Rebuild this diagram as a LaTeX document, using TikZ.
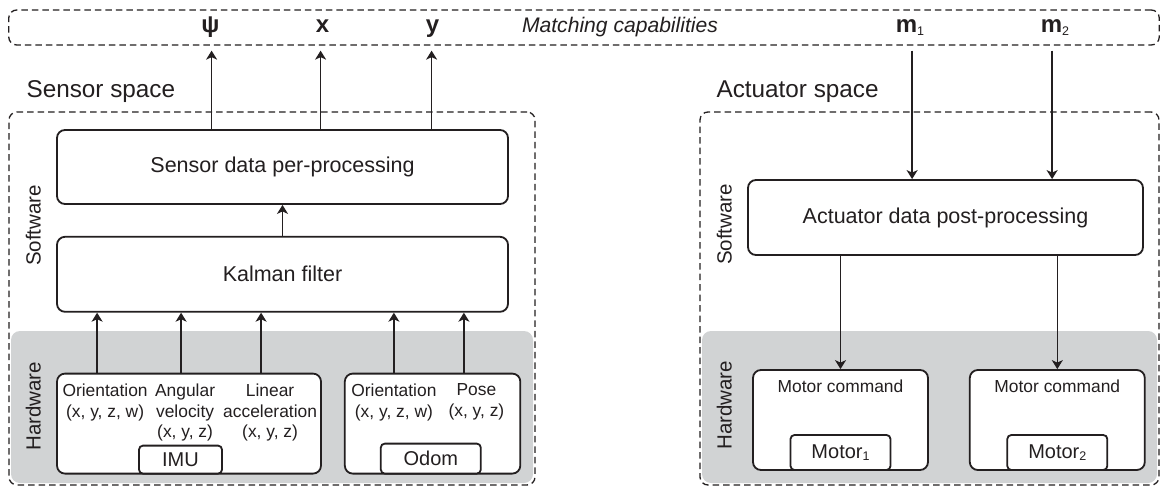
\documentclass[tikz,border=0pt]{standalone}
\usepackage{fontspec}
\setmainfont{Liberation Sans}
\usetikzlibrary{arrows.meta,positioning,calc,backgrounds}
\definecolor{ink}{HTML}{231F20}
\definecolor{hwgray}{HTML}{D1D3D4}
\newcommand{\lowidx}[1]{\raisebox{-2.5pt}{\mdseries\fontsize{12.5}{13}\selectfont #1}}
\tikzset{
  >={Stealth[length=9pt,width=11pt,inset=2.5pt]},
  every node/.style={text=ink},
  box/.style={draw=ink,line width=1.8pt,rounded corners=8pt,fill=white,align=center,inner sep=0pt,font=\fontsize{21.5}{26}\selectfont},
  hwbox/.style={box,minimum height=100pt},
  tag/.style={draw=ink,line width=1.8pt,rounded corners=4pt,fill=white,inner sep=0pt,font=\fontsize{20}{24}\selectfont},
  spec/.style={align=center,inner sep=0pt,font=\fontsize{17.4}{20.5}\selectfont},
  region/.style={draw=ink,line width=1.3pt,dash pattern=on 6.5pt off 4pt,rounded corners=8pt,inner sep=0pt},
  hwzone/.style={fill=hwgray,rounded corners=9pt},
  spacetitle/.style={anchor=base west,inner sep=0pt,font=\fontsize{24.3}{29}\selectfont},
  layer/.style={rotate=90,inner sep=0pt,font=\fontsize{20.5}{24}\selectfont},
  capsym/.style={anchor=base,inner sep=0pt,font=\fontsize{24}{28}\selectfont\bfseries},
  arrow/.style={->,line width=1.4pt,draw=ink},
}

\begin{document}
\begin{tikzpicture}[x=1pt,y=-1pt]
\useasboundingbox (0,0) rectangle (1161,486);

% matching capabilities band
\node[region,minimum width=1150.5pt,minimum height=35pt] (cap) at (584,27.5) {};
\node[capsym] (psi) at (210.5,33) {ψ};
\node[capsym] (capx) at (322.5,33) {x};
\node[capsym] (capy) at (432.5,33) {y};
\node[anchor=base,inner sep=0pt,font=\fontsize{21.1}{25}\selectfont\itshape] (match) at (620,33) {Matching capabilities};
\node[capsym] (m1) at (910,33) {m\lowidx{1}};
\node[capsym] (m2) at (1055,33) {m\lowidx{2}};

% sensor space
\node[region,minimum width=526pt,minimum height=373pt] (sensor) at (272,298.5) {};
\node[spacetitle] (sensortitle) at ([xshift=18pt,yshift=14pt]sensor.north west) {Sensor space};
\node[box,minimum width=451pt,minimum height=74pt] (pre) at (282.5,167) {Sensor data per-processing};
\node[box,minimum width=451pt,minimum height=75pt,below=31pt of pre] (kalman) {Kalman filter};
\node[hwbox,minimum width=264pt,below=60pt of kalman.south west,anchor=north west] (imu) {};
\node[hwbox,minimum width=175.5pt,right=22pt of imu] (odom) {};
\node[tag,minimum width=83pt,minimum height=28pt,anchor=south] (imutag) at ([xshift=-8.5pt]imu.south) {IMU};
\node[tag,minimum width=100pt,minimum height=30pt,anchor=south] (odomtag) at ([xshift=-1.75pt]odom.south) {Odom};
\node[spec,anchor=north] (imuori) at ($(imu.north west)+(49,11)$) {Orientation\\(x, y, z, w)};
\node[spec,anchor=north] (imuang) at ($(imu.north west)+(129,11)$) {Angular\\velocity\\(x, y, z)};
\node[spec,anchor=north] (imulin) at ($(imu.north west)+(214,11)$) {Linear\\acceleration\\(x, y, z)};
\node[spec,anchor=north] (odomori) at ($(odom.north west)+(50,11)$) {Orientation\\(x, y, z, w)};
\node[spec,anchor=north] (odompose) at ($(odom.north west)+(132.5,11)$) {Pose\\(x, y, z)};
\node[layer] (sensorsw) at ($(sensor.north west)+(25,114)$) {Software};
\node[layer] (sensorhw) at ($(sensor.north west)+(25,295)$) {Hardware};

\foreach \dx [count=\i] in {41,125,205}
  \coordinate (imuout\i) at ($(imu.north west)+(\dx,0)$);
\foreach \dx [count=\i] in {50,120}
  \coordinate (odomout\i) at ($(odom.north west)+(\dx,0)$);
\foreach \i in {1,2,3}
  \draw[arrow] (imuout\i) -- (imuout\i |- kalman.south);
\foreach \i in {1,2}
  \draw[arrow] (odomout\i) -- (odomout\i |- kalman.south);
\draw[arrow] (kalman) -- (pre);
\foreach \dx [count=\i] in {155.5,264.5,375.5}
  \coordinate (preout\i) at ($(pre.north west)+(\dx,0)$);
\foreach \i in {1,2,3}
  \draw[arrow,shorten >=5pt] (preout\i) -- (preout\i |- cap.south);

% actuator space
\node[region,minimum width=459pt,minimum height=373pt] (actuator) at (929.5,298.5) {};
\node[spacetitle] (actuatortitle) at ([xshift=17pt,yshift=14pt]actuator.north west) {Actuator space};
\node[box,minimum width=395pt,minimum height=75pt] (post) at (945.5,217.5) {Actuator data post-processing};
\node[hwbox,minimum width=175pt] (cmd1) at (840.5,420) {};
\node[hwbox,minimum width=175pt,right=40pt of cmd1] (cmd2) {};
\node[spec] (cmd1txt) at ($(cmd1.north)+(0,17)$) {Motor command};
\node[spec] (cmd2txt) at ($(cmd2.north)+(0,17)$) {Motor command};
\node[tag,minimum width=100pt,minimum height=35pt,anchor=south] (motor1) at (cmd1.south) {Motor\lowidx{1}};
\node[tag,minimum width=100pt,minimum height=35pt,anchor=south] (motor2) at (cmd2.south) {Motor\lowidx{2}};
\node[layer] (actuatorsw) at ($(actuator.north west)+(25,113)$) {Software};
\node[layer] (actuatorhw) at ($(actuator.north west)+(25,294)$) {Hardware};

\foreach \dx [count=\i] in {165,305}
  \coordinate (postin\i) at ($(post.north west)+(\dx,0)$);
\foreach \i in {1,2}
  \draw[arrow,shorten <=5pt] (postin\i |- cap.south) -- (postin\i);
\draw[arrow] (post.south -| cmd1) -- (cmd1);
\draw[arrow] (post.south -| cmd2) -- (cmd2);

\begin{scope}[on background layer]
  \fill[white] (0,0) rectangle (1161,486);
  \fill[hwzone] (11,331) rectangle (533,483);
  \fill[hwzone] (702,331) rectangle (1157,483);
\end{scope}
\end{tikzpicture}
\end{document}
